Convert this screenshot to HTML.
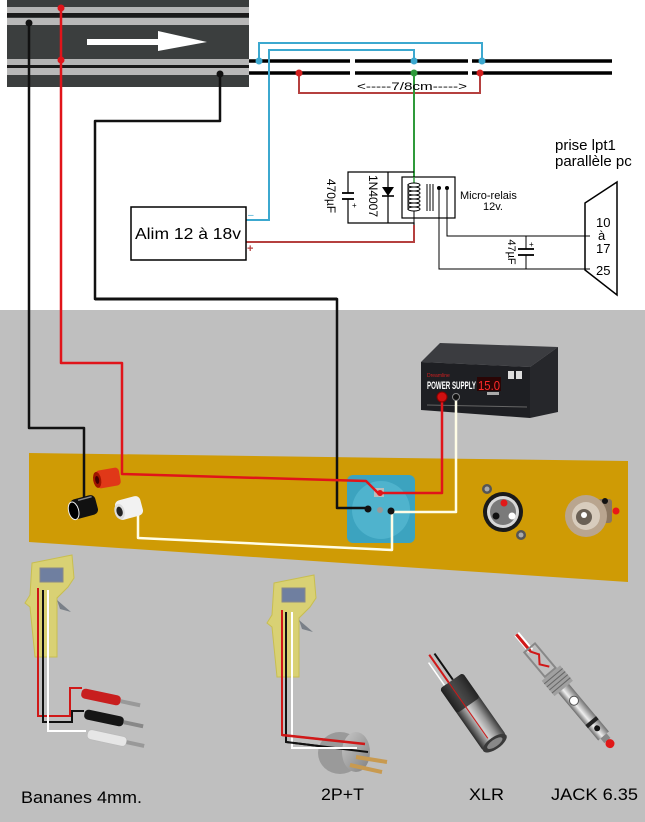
<!DOCTYPE html>
<html><head><meta charset="utf-8"><style>
html,body{margin:0;padding:0;background:#fff;}
svg{display:block;font-family:"Liberation Sans",Arial,sans-serif;}
</style></head><body>
<svg width="645" height="822" viewBox="0 0 645 822" xmlns="http://www.w3.org/2000/svg">
<defs>
<linearGradient id="xg" x1="0" x2="1" y1="0" y2="0"><stop offset="0" stop-color="#2a2a2a"/><stop offset=".45" stop-color="#d0d0d0"/><stop offset=".7" stop-color="#9a9a9a"/><stop offset="1" stop-color="#3a3a3a"/></linearGradient>
<linearGradient id="jg" x1="0" x2="1" y1="0" y2="0"><stop offset="0" stop-color="#6a6a6a"/><stop offset=".4" stop-color="#eeeeee"/><stop offset="1" stop-color="#707070"/></linearGradient>
<linearGradient id="pg" x1="0" x2="1" y1="0" y2="1"><stop offset="0" stop-color="#c8c8c8"/><stop offset="1" stop-color="#808080"/></linearGradient>
</defs>
<rect width="645" height="310" fill="#fff"/>
<rect y="310" width="645" height="512" fill="#bfbfbf"/>

<!-- track -->
<rect x="7" y="0" width="242" height="87" fill="#3b3e3e"/>
<rect x="7" y="7" width="242" height="6" fill="#b4b4b4"/>
<rect x="7" y="13" width="242" height="4" fill="#1a1a1a"/>
<rect x="7" y="18" width="242" height="7" fill="#b8b8b8"/>
<rect x="7" y="59" width="242" height="6" fill="#b4b4b4"/>
<rect x="7" y="65" width="242" height="3" fill="#1a1a1a"/>
<rect x="7" y="68" width="242" height="7" fill="#b8b8b8"/>
<path d="M87,39 H158 V31 L207,42 L158,51 V45 H87 Z" fill="#fff"/>

<!-- track rails on the right -->
<g stroke="#000" stroke-width="3.5">
<line x1="249" y1="61" x2="350" y2="61"/><line x1="355" y1="61" x2="468" y2="61"/><line x1="472" y1="61" x2="612" y2="61"/>
<line x1="249" y1="73" x2="350" y2="73"/><line x1="355" y1="73" x2="468" y2="73"/><line x1="472" y1="73" x2="612" y2="73"/>
</g>

<!-- blue wires -->
<g fill="none" stroke="#3ca8cf" stroke-width="2">
<path d="M259,61 V43 H482 V61"/>
<path d="M414,61 V50 H269 V220 H246"/>
</g>
<!-- schematic red -->
<g fill="none" stroke="#b5403f" stroke-width="2">
<path d="M299,73 V93 H480 V73"/>
<path d="M414,225 V242 H246"/>
</g>
<line x1="414" y1="73" x2="414" y2="180" stroke="#2f9a3a" stroke-width="2"/>
<g fill="#3ca8cf"><circle cx="259" cy="61" r="3.5"/><circle cx="414" cy="61" r="3.5"/><circle cx="482" cy="61" r="3.5"/></g>
<g fill="#d42020"><circle cx="299" cy="73" r="3.5"/><circle cx="480" cy="73" r="3.5"/></g>
<circle cx="414" cy="73" r="3.5" fill="#2f9a3a"/>
<text x="357" y="90" font-size="11" textLength="110" lengthAdjust="spacingAndGlyphs">&lt;-----7/8cm-----&gt;</text>

<!-- Alim box -->
<rect x="131" y="207" width="115" height="53" fill="#fff" stroke="#000" stroke-width="1.5"/>
<text x="188" y="239" font-size="16" text-anchor="middle" textLength="106" lengthAdjust="spacingAndGlyphs">Alim 12 à 18v</text>
<text x="248" y="218" font-size="10" fill="#3ca8cf">–</text>
<text x="247" y="252" font-size="11" fill="#b5403f" font-weight="bold">+</text>

<!-- cap/diode box -->
<g stroke="#000" stroke-width="1.2" fill="none">
<path d="M414,172 H348 V193"/>
<path d="M348,199 V223 H414 V225"/>
<line x1="342" y1="193" x2="354" y2="193" stroke-width="1.8"/>
<line x1="342" y1="199" x2="354" y2="199" stroke-width="1.8"/>
<line x1="388" y1="172" x2="388" y2="223"/>
<line x1="382" y1="196" x2="394" y2="196" stroke-width="1.6"/>
</g>
<polygon points="382,187 394,187 388,196" fill="#000"/>
<text x="352" y="208" font-size="8">+</text>
<text transform="translate(331,196) rotate(90)" text-anchor="middle" font-size="12" y="4">470µF</text>
<text transform="translate(373,196) rotate(90)" text-anchor="middle" font-size="12" y="4">1N4007</text>

<!-- relay -->
<rect x="402" y="177" width="53" height="41" fill="#fff" stroke="#000" stroke-width="1.2"/>
<line x1="414" y1="177" x2="414" y2="183" stroke="#2f9a3a" stroke-width="1.5"/>
<g fill="none" stroke="#000" stroke-width="1">
<ellipse cx="414" cy="185" rx="6" ry="2"/><ellipse cx="414" cy="189" rx="6" ry="2"/><ellipse cx="414" cy="193" rx="6" ry="2"/><ellipse cx="414" cy="197" rx="6" ry="2"/><ellipse cx="414" cy="201" rx="6" ry="2"/><ellipse cx="414" cy="205" rx="6" ry="2"/><ellipse cx="414" cy="209" rx="6" ry="2"/>
<line x1="408" y1="184" x2="408" y2="210"/>
<line x1="414" y1="211" x2="414" y2="225"/>
<line x1="427" y1="184" x2="427" y2="211"/><line x1="430" y1="184" x2="430" y2="211"/><line x1="433" y1="184" x2="433" y2="211"/>
<path d="M447,188 V236 H590"/>
<path d="M439,188 V269 H590"/>
<path d="M526,236 V249 M526,255 V269"/>
</g>
<circle cx="439" cy="188" r="2" fill="#000"/><circle cx="447" cy="188" r="2" fill="#000"/>
<line x1="518" y1="249" x2="534" y2="249" stroke="#000" stroke-width="1.8"/>
<line x1="518" y1="255" x2="534" y2="255" stroke="#000" stroke-width="1.8"/>
<text x="529" y="247" font-size="8">+</text>
<text transform="translate(512,252) rotate(90)" text-anchor="middle" font-size="11" y="4">47µF</text>
<text x="460" y="199" font-size="11">Micro-relais</text>
<text x="483" y="210" font-size="11">12v.</text>

<!-- lpt -->
<text x="555" y="150" font-size="15">prise lpt1</text>
<text x="555" y="166" font-size="15">parallèle pc</text>
<polygon points="585,203 617,182 617,295 585,270" fill="none" stroke="#000" stroke-width="1.5"/>
<text x="596" y="227" font-size="13">10</text>
<text x="598" y="240" font-size="13">à</text>
<text x="596" y="253" font-size="13">17</text>
<text x="596" y="275" font-size="13">25</text>

<!-- panel -->
<polygon points="29,453 628,461 628,582 29,542" fill="#cf9b05"/>

<!-- power supply -->
<polygon points="421,362 440,343 558,347 530,367" fill="#3b3c40"/>
<polygon points="530,367 558,347 558,412 530,418" fill="#26272b"/>
<polygon points="421,362 530,367 530,418 421,410" fill="#1e1f23"/>
<text x="427" y="377" font-size="5" fill="#d02020">Dreamline</text>
<text x="427" y="389" font-size="11" fill="#fff" font-weight="bold" textLength="49" lengthAdjust="spacingAndGlyphs">POWER SUPPLY</text>
<rect x="477" y="377" width="24" height="14" fill="#2a0505"/>
<text x="478" y="390" font-size="13" fill="#ff2a2a" textLength="22" lengthAdjust="spacingAndGlyphs">15.0</text>
<rect x="508" y="371" width="6" height="8" fill="#ddd"/><rect x="516" y="371" width="6" height="8" fill="#ddd"/>
<rect x="487" y="392" width="12" height="3" fill="#aaa"/>
<line x1="427" y1="405" x2="527" y2="407" stroke="#666" stroke-width="1"/>

<!-- socket -->
<rect x="347" y="475" width="68" height="68" rx="6" fill="#3ca3bf"/>
<circle cx="381" cy="510" r="29" fill="#4fb3cd"/>
<rect x="374" y="488" width="10" height="9" fill="#bbb"/>
<circle cx="380" cy="510" r="3" fill="#999"/>

<!-- photo wires -->
<g fill="none" stroke-width="2.5" stroke-linejoin="round">
<path d="M29,23 V428 H84 V497" stroke="#111"/>
<path d="M220,74 V121 H95 V299 H337 V508 H368" stroke="#111"/>
<path d="M61,8 V363 H122 V474 L366,481 L378,493 H442 V398" stroke="#e0141a"/>
<path d="M138,508 V538 L392,550 V512 H456 V398" stroke="#fffde6"/>
</g>
<line x1="95" y1="299" x2="337" y2="299" stroke="#111" stroke-width="3"/>
<circle cx="29" cy="23" r="3.5" fill="#111"/>
<circle cx="220" cy="74" r="3.5" fill="#111"/>
<circle cx="61" cy="8" r="3.5" fill="#e0141a"/>
<circle cx="61" cy="60" r="3.5" fill="#e0141a"/>
<circle cx="368" cy="509" r="3.5" fill="#111"/>
<circle cx="391" cy="511" r="3.5" fill="#111"/>
<circle cx="380" cy="493" r="3" fill="#e0141a"/>
<!-- terminals -->
<circle cx="442" cy="397" r="5" fill="#d01010" stroke="#800" stroke-width="1"/>
<circle cx="456" cy="397" r="3.5" fill="#111" stroke="#888" stroke-width="1"/>

<!-- banana jacks -->
<g transform="translate(108,478) rotate(-10)">
<rect x="-12" y="-9" width="24" height="18" rx="4" fill="#e03818"/>
<ellipse cx="-11" cy="0" rx="4" ry="8" fill="#a01500"/><ellipse cx="-11" cy="0" rx="2" ry="4" fill="#400"/>
</g>
<g transform="translate(84,507) rotate(-15)">
<rect x="-13" y="-10" width="26" height="20" rx="5" fill="#111"/>
<ellipse cx="-11" cy="1" rx="5" ry="9" fill="#000" stroke="#eee" stroke-width="1"/>
<line x1="-4" y1="-8" x2="10" y2="-8" stroke="#888" stroke-width="1.5"/>
</g>
<g transform="translate(129,508) rotate(-15)">
<rect x="-13" y="-10" width="26" height="20" rx="5" fill="#f2f2f2"/>
<ellipse cx="-10" cy="1" rx="5" ry="8" fill="#ddd"/><ellipse cx="-10" cy="1" rx="3" ry="5" fill="#222"/>
</g>

<!-- XLR socket -->
<circle cx="487" cy="489" r="5" fill="#555"/><circle cx="487" cy="489" r="2.5" fill="#aaa"/>
<circle cx="521" cy="535" r="5" fill="#555"/><circle cx="521" cy="535" r="2.5" fill="#aaa"/>
<circle cx="503" cy="512" r="20" fill="#1a1a1a"/>
<circle cx="503" cy="512" r="16" fill="#d8d8d8"/>
<circle cx="503" cy="512" r="13" fill="#7a7a7a"/>
<circle cx="504" cy="503" r="3.5" fill="#e01818"/>
<circle cx="496" cy="516" r="3.5" fill="#111"/>
<circle cx="512" cy="516" r="3.5" fill="#fff"/>

<!-- jack socket -->
<rect x="598" y="499" width="14" height="24" rx="3" fill="#8a7660"/>
<circle cx="586" cy="516" r="21" fill="#b9a58f"/>
<circle cx="586" cy="516" r="14" fill="#d8ccbd"/>
<circle cx="584" cy="517" r="8" fill="#6a6055"/>
<circle cx="605" cy="501" r="3" fill="#111"/>
<circle cx="584" cy="515" r="3" fill="#fff"/>
<circle cx="616" cy="511" r="3.5" fill="#e81818"/>

<!-- controller 1 -->
<g id="ctl">
<path d="M32,563 L72,555 L74,578 L68,587 L57,598 L57,657 L35,657 L30,607 L25,603 L30,595 Z" fill="#ddd46a" fill-opacity=".88" stroke="#c8be50" stroke-width="1"/>
<rect x="40" y="568" width="23" height="14" fill="#6f7fa0" stroke="#888" stroke-width="1"/>
<polygon points="57,600 71,612 60,609" fill="#7a8088"/>
</g>
<g fill="none" stroke-width="2">
<path d="M38,588 V716 H70 V688 H82" stroke="#d01818"/>
<path d="M43,590 V722 H72 V711 H84" stroke="#111"/>
<path d="M48,590 V731 H86" stroke="#fff"/>
</g>
<g transform="translate(101,697) rotate(12)"><rect x="-20" y="-5" width="40" height="10" rx="4" fill="#c81e1e"/><rect x="20" y="-2" width="20" height="4" fill="#999"/></g>
<g transform="translate(104,718) rotate(12)"><rect x="-20" y="-5" width="40" height="10" rx="4" fill="#151515"/><rect x="20" y="-2" width="20" height="4" fill="#888"/></g>
<g transform="translate(107,738) rotate(12)"><rect x="-20" y="-5" width="40" height="10" rx="4" fill="#e6e6e6" stroke="#bbb" stroke-width=".8"/><rect x="20" y="-2" width="18" height="4" fill="#999"/></g>

<!-- controller 2 -->
<use href="#ctl" transform="translate(242,20)"/>
<g fill="none" stroke-width="2">
<path d="M282,610 V735 L365,744" stroke="#d01818"/>
<path d="M286,612 V742 L368,752" stroke="#111"/>
<path d="M292,612 V748 H357" stroke="#fff"/>
</g>
<ellipse cx="340" cy="753" rx="22" ry="21" fill="#9a9a9a"/>
<ellipse cx="356" cy="752" rx="14" ry="20" fill="url(#pg)"/>
<path d="M282,735 L365,744" stroke="#d01818" stroke-width="2.5"/>
<path d="M286,742 L368,752" stroke="#111" stroke-width="2"/>
<path d="M292,748 H357" stroke="#fff" stroke-width="2"/>
<line x1="356" y1="757" x2="387" y2="762" stroke="#c89a50" stroke-width="4"/>
<line x1="350" y1="765" x2="382" y2="772" stroke="#c89a50" stroke-width="4"/>

<!-- XLR plug -->
<g transform="translate(473,712) rotate(-35)">
<line x1="-8" y1="-38" x2="-8" y2="-66" stroke="#fff" stroke-width="1.5"/>
<line x1="-3" y1="-38" x2="-3" y2="-72" stroke="#d01818" stroke-width="2"/>
<line x1="2" y1="-38" x2="2" y2="-70" stroke="#111" stroke-width="2"/>
<rect x="-14" y="-38" width="28" height="76" rx="3" fill="url(#xg)"/>
<rect x="-14" y="-38" width="28" height="30" rx="3" fill="#1c1c1c" fill-opacity=".75"/>
<line x1="-3" y1="-38" x2="-3" y2="30" stroke="#d01818" stroke-width="1"/>
<ellipse cx="0" cy="38" rx="14" ry="6" fill="#3a3a3a"/>
<ellipse cx="0" cy="38" rx="9" ry="3.5" fill="#888"/>
</g>

<!-- jack plug -->
<g transform="translate(565,690) rotate(-40)">
<rect x="-4" y="-74" width="6" height="22" fill="#fff"/>
<rect x="-3" y="-74" width="3" height="22" fill="#d01818"/>
<rect x="-7" y="-55" width="14" height="32" fill="none" stroke="#888" stroke-width="2"/>
<path d="M-2,-52 L3,-44 L-3,-36 L3,-28" fill="none" stroke="#d01818" stroke-width="2"/>
<rect x="-12" y="-22" width="24" height="20" fill="#a0a0a0"/>
<g stroke="#666" stroke-width="1"><line x1="-12" y1="-18" x2="12" y2="-18"/><line x1="-12" y1="-14" x2="12" y2="-14"/><line x1="-12" y1="-10" x2="12" y2="-10"/><line x1="-12" y1="-6" x2="12" y2="-6"/></g>
<rect x="-7" y="-2" width="14" height="62" fill="url(#jg)"/>
<circle cx="0" cy="14" r="4.5" fill="#fff" stroke="#555" stroke-width="1"/>
<rect x="-7" y="40" width="14" height="4" fill="#222"/>
<circle cx="0" cy="50" r="3" fill="#111"/>
<rect x="-4" y="60" width="8" height="6" fill="#888"/>
<circle cx="0" cy="70" r="4.5" fill="#e01818"/>
</g>

<!-- labels -->
<text x="21" y="803" font-size="17" textLength="121" lengthAdjust="spacingAndGlyphs">Bananes 4mm.</text>
<text x="321" y="800" font-size="17" textLength="43" lengthAdjust="spacingAndGlyphs">2P+T</text>
<text x="469" y="800" font-size="17" textLength="35" lengthAdjust="spacingAndGlyphs">XLR</text>
<text x="551" y="800" font-size="17" textLength="87" lengthAdjust="spacingAndGlyphs">JACK 6.35</text>
</svg>
</body></html>
